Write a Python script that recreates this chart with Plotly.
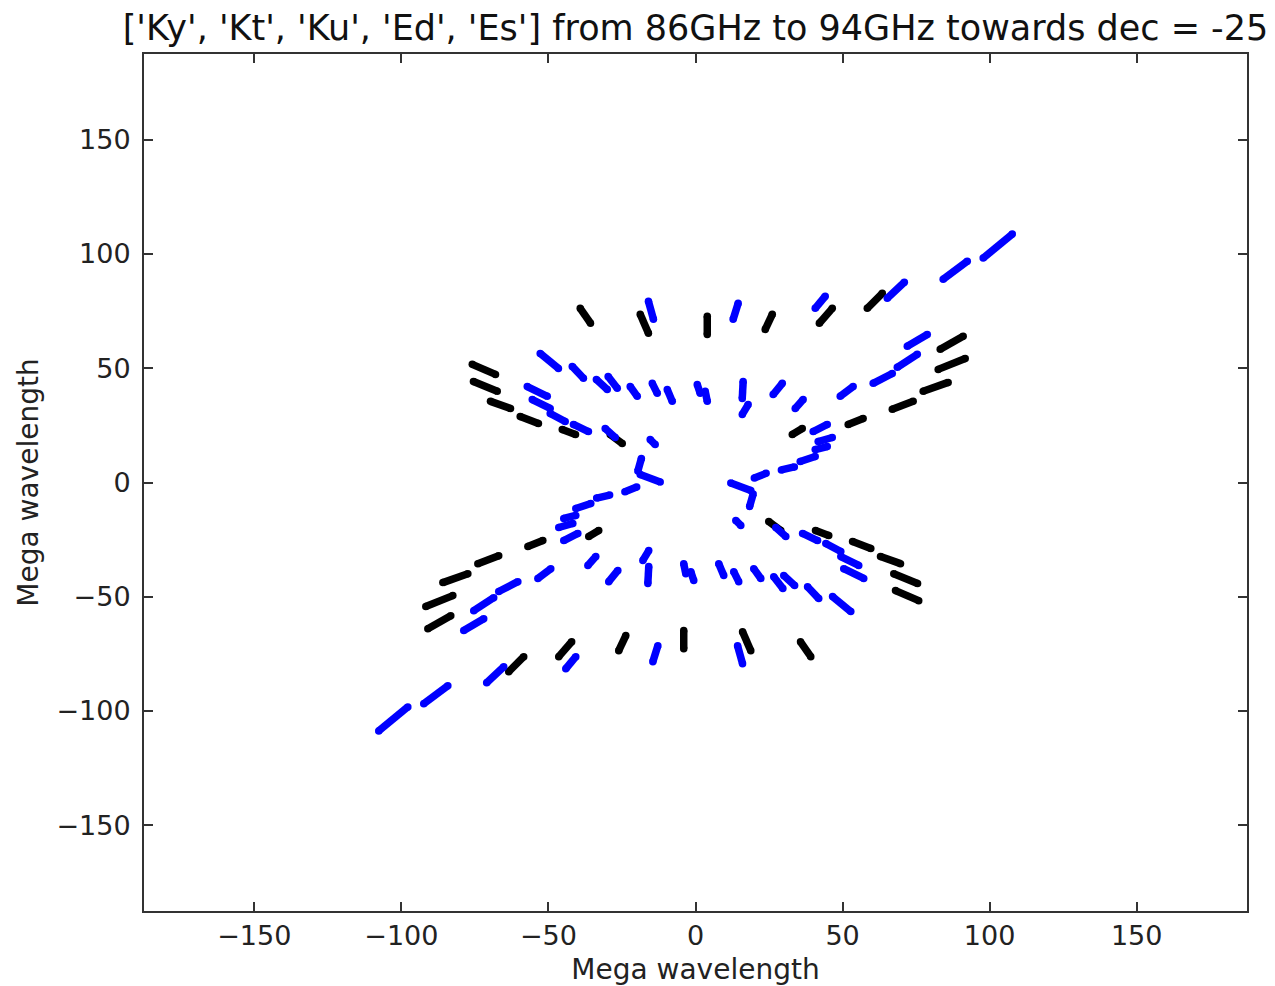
import plotly.graph_objects as go

# ---------------- data (Mega wavelength) ----------------
# Each uv track is a short segment from (u0, v0) to (u1, v1)
black_u0 = [-39.2, -18.8, 4.0, 26.1, 46.5, 63.5, 91.0, 91.7, 85.9, 74.0, 57.0, 36.3, -75.9, -75.5, -69.7, -59.6, -45.3, -29.0,
            39.2, 18.8, -4.0, -26.1, -46.5, -63.5, -91.0, -91.7, -85.9, -74.0, -57.0, -36.3, 75.9, 75.5, 69.7, 59.6, 45.3, 29.0]
black_v0 = [76.2, 73.6, 72.7, 73.6, 76.2, 82.8, 64.0, 54.3, 43.8, 35.5, 28.0, 23.6, 51.7, 44.2, 35.5, 28.9, 23.2, 21.0,
            -76.2, -73.6, -72.7, -73.6, -76.2, -82.8, -64.0, -54.3, -43.8, -35.5, -28.0, -23.6, -51.7, -44.2, -35.5, -28.9, -23.2, -21.0]
black_u1 = [-35.7, -16.0, 4.0, 23.7, 42.1, 58.4, 83.2, 82.5, 77.4, 66.9, 51.9, 32.9, -68.0, -67.4, -62.9, -53.4, -40.8, -24.9,
            35.7, 16.0, -4.0, -23.7, -42.1, -58.4, -83.2, -82.5, -77.4, -66.9, -51.9, -32.9, 68.0, 67.4, 62.9, 53.4, 40.8, 24.9]
black_v1 = [69.7, 65.3, 64.8, 67.0, 69.7, 76.2, 58.3, 49.5, 39.9, 32.0, 25.4, 21.0, 47.3, 39.9, 32.4, 25.8, 21.0, 17.1,
            -69.7, -65.3, -64.8, -67.0, -69.7, -76.2, -58.3, -49.5, -39.9, -32.0, -25.4, -21.0, -47.3, -39.9, -32.4, -25.8, -21.0, -17.1]

blue_u0 = [107.7, 92.4, 71.0, 44.1, 14.5, -16.0, 78.8, 75.4, 66.9, 53.6, 44.8, 46.5, 44.8, 40.7, 33.6, 24.0,
           -52.8, -41.9, -57.2, -55.5, -49.4, -41.5, -33.7, -29.7, -22.2, -14.7, -9.6, 0.6, 3.3, 16.2, 17.9, 29.5, 36.6,
           -30.7, -15.4, -18.4, -18.8,
           -107.7, -92.4, -71.0, -44.1, -14.5, 16.0, -78.8, -75.4, -66.9, -53.6, -44.8, -46.5, -44.8, -40.7, -33.6, -24.0,
           52.8, 41.9, 57.2, 55.5, 49.4, 41.5, 33.7, 29.7, 22.2, 14.7, 9.6, -0.6, -3.3, -16.2, -17.9, -29.5, -36.6,
           30.7, 15.4, 18.4, 18.8]
blue_v0 = [108.7, 96.8, 87.6, 81.5, 78.4, 79.3, 64.8, 56.1, 47.7, 42.0, 25.4, 19.7, 15.7, 11.4, 6.8, 4.0,
           56.5, 50.8, 42.0, 36.3, 30.2, 25.4, 45.1, 46.4, 42.0, 43.4, 40.7, 42.9, 39.9, 44.2, 34.1, 43.4, 36.3,
           23.6, 18.8, 10.5, 3.5,
           -108.7, -96.8, -87.6, -81.5, -78.4, -79.3, -64.8, -56.1, -47.7, -42.0, -25.4, -19.7, -15.7, -11.4, -6.8, -4.0,
           -56.5, -50.8, -42.0, -36.3, -30.2, -25.4, -45.1, -46.4, -42.0, -43.4, -40.7, -42.9, -39.9, -44.2, -34.1, -43.4, -36.3,
           -23.6, -18.8, -10.5, -3.5]
blue_u1 = [97.8, 84.2, 65.2, 40.7, 12.8, -14.3, 72.0, 68.6, 60.4, 49.2, 40.0, 41.7, 40.7, 35.6, 29.2, 20.0,
           -46.6, -38.1, -50.4, -49.4, -44.3, -36.4, -30.0, -26.6, -19.8, -13.0, -7.9, 1.6, 4.0, 15.9, 15.9, 26.4, 33.9,
           -27.3, -13.7, -19.6, -12.0,
           -97.8, -84.2, -65.2, -40.7, -12.8, 14.3, -72.0, -68.6, -60.4, -49.2, -40.0, -41.7, -40.7, -35.6, -29.2, -20.0,
           46.6, 38.1, 50.4, 49.4, 44.3, 36.4, 30.0, 26.6, 19.8, 13.0, 7.9, -1.6, -4.0, -15.9, -15.9, -26.4, -33.9,
           27.3, 13.7, 19.6, 12.0]
blue_v1 = [98.2, 88.9, 80.6, 76.2, 71.4, 71.4, 59.6, 50.4, 43.4, 37.7, 22.3, 17.9, 14.4, 9.2, 5.5, 2.0,
           49.9, 45.6, 37.7, 32.4, 26.7, 22.3, 40.7, 41.2, 37.7, 39.0, 35.5, 39.0, 35.5, 36.8, 29.8, 38.5, 32.4,
           19.7, 16.6, 5.0, 0.2,
           -98.2, -88.9, -80.6, -76.2, -71.4, -71.4, -59.6, -50.4, -43.4, -37.7, -22.3, -17.9, -14.4, -9.2, -5.5, -2.0,
           -49.9, -45.6, -37.7, -32.4, -26.7, -22.3, -40.7, -41.2, -37.7, -39.0, -35.5, -39.0, -35.5, -36.8, -29.8, -38.5, -32.4,
           -19.7, -16.6, -5.0, -0.2]

tick_vals = [-150, -100, -50, 0, 50, 100, 150]
title_text = "['Ky', 'Kt', 'Ku', 'Ed', 'Es'] from 86GHz to 94GHz towards dec = -25"
axis_label = "Mega wavelength"


def segments(u0, v0, u1, v1):
    xs, ys = [], []
    for a, b, c, d in zip(u0, v0, u1, v1):
        xs += [a, c, None]
        ys += [b, d, None]
    return xs, ys


fig = go.Figure()
for (u0, v0, u1, v1), col in [((black_u0, black_v0, black_u1, black_v1), "black"),
                              ((blue_u0, blue_v0, blue_u1, blue_v1), "#0000ff")]:
    xs, ys = segments(u0, v0, u1, v1)
    fig.add_trace(go.Scatter(x=xs, y=ys, mode="lines+markers",
                             line=dict(color=col, width=7.5),
                             marker=dict(color=col, size=7.5, line=dict(width=0)),
                             hoverinfo="skip", showlegend=False))

axis_common = dict(range=[-187.5, 187.5], tickvals=tick_vals, ticks="inside", ticklen=9,
                   tickwidth=1.5, tickcolor="#333", showline=True, linecolor="#333",
                   linewidth=2, mirror="ticks", showgrid=False, zeroline=False,
                   automargin=False, tickfont=dict(size=27, color="#222"))
fig.update_xaxes(**axis_common,
                 title=dict(text=axis_label, standoff=11, font=dict(size=28, color="#222")))
fig.update_yaxes(**axis_common, ticklabelstandoff=6,
                 title=dict(text=axis_label, standoff=10, font=dict(size=28, color="#222")))

# the page body adds an 8 px offset, so the figure is sized to fit the 1275x986 window
fig.update_layout(
    width=1267, height=978,
    margin=dict(l=136, r=28, t=46, b=75, autoexpand=False),
    plot_bgcolor="white", paper_bgcolor="white",
    font=dict(family="DejaVu Sans", color="#222"),
    title=dict(text=title_text, xref="paper", x=0.5, xanchor="center",
               yref="container", y=1 - 20 / 978, yanchor="middle",
               font=dict(size=35, color="#111")),
)
fig.write_html("out.html")
